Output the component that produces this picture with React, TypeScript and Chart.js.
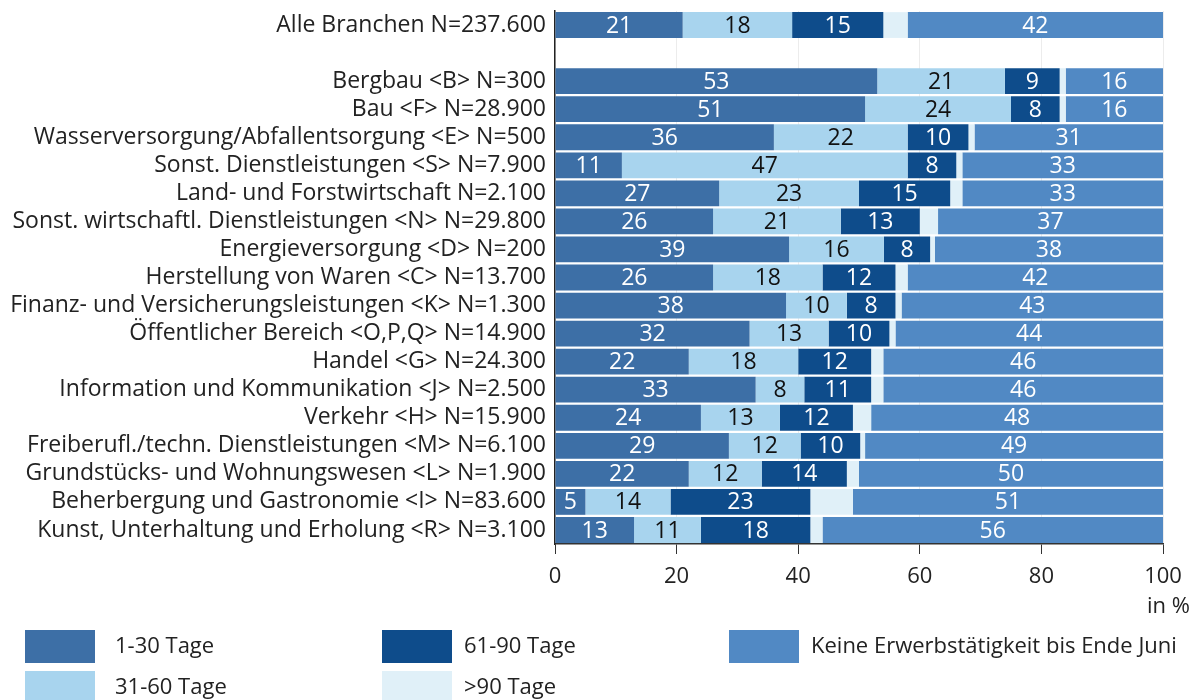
import React, { useEffect, useRef } from "react";
import { Chart, registerables } from "chart.js";

Chart.register(...registerables);

const categories = [
  "Alle Branchen N=237.600",
  "",
  "Bergbau <B> N=300",
  "Bau <F> N=28.900",
  "Wasserversorgung/Abfallentsorgung <E> N=500",
  "Sonst. Dienstleistungen <S> N=7.900",
  "Land- und Forstwirtschaft N=2.100",
  "Sonst. wirtschaftl. Dienstleistungen <N> N=29.800",
  "Energieversorgung <D> N=200",
  "Herstellung von Waren <C> N=13.700",
  "Finanz- und Versicherungsleistungen <K> N=1.300",
  "Öffentlicher Bereich <O,P,Q> N=14.900",
  "Handel <G> N=24.300",
  "Information und Kommunikation <J> N=2.500",
  "Verkehr <H> N=15.900",
  "Freiberufl./techn. Dienstleistungen <M> N=6.100",
  "Grundstücks- und Wohnungswesen <L> N=1.900",
  "Beherbergung und Gastronomie <I> N=83.600",
  "Kunst, Unterhaltung und Erholung <R> N=3.100",
];

const tage1to30 = [21, null, 53, 51, 36, 11, 27, 26, 38.5, 26, 38, 32, 22, 33, 24, 28.6, 22, 5, 13];
const tage31to60 = [18, null, 21, 24, 22, 47, 23, 21, 15.6, 18, 10, 13, 18, 8, 13, 11.8, 12, 14, 11];
const tage61to90 = [15, null, 9, 8, 10, 8, 15, 13, 7.6, 12, 8, 10, 12, 11, 12, 9.8, 14, 23, 18];
const tageOver90 = [4, null, 1, 1, 1, 1, 2, 3, 0.8, 2, 1, 1, 2, 2, 3, 0.8, 2, 7, 2];
const keineErwerb = [42, null, 16, 16, 31, 33, 33, 37, 37.5, 42, 43, 44, 46, 46, 48, 49, 50, 51, 56];

const seriesNames = ["1-30 Tage", "31-60 Tage", "61-90 Tage", ">90 Tage", "Keine Erwerbstätigkeit bis Ende Juni"];
const xTicks = [0, 20, 40, 60, 80, 100];

const colors = ["#3d6fa6", "#a8d4ee", "#0e4c8b", "#e0f0f8", "#5189c4"];
const labelColors = ["#ffffff", "#111111", "#ffffff", null, "#ffffff"];
const FONT = "'Open Sans', 'Liberation Sans', sans-serif";

export default function App() {
  const ref = useRef<HTMLCanvasElement | null>(null);

  useEffect(() => {
    if (!ref.current) return;
    const values = [tage1to30, tage31to60, tage61to90, tageOver90, keineErwerb];

    const labelPlugin = {
      id: "barLabels",
      afterDatasetsDraw(chart: any) {
        const ctx = chart.ctx;
        ctx.save();
        ctx.font = `23px ${FONT}`;
        ctx.textAlign = "center";
        ctx.textBaseline = "middle";
        chart.data.datasets.forEach((ds: any, di: number) => {
          const col = labelColors[di];
          if (!col) return;
          const meta = chart.getDatasetMeta(di);
          meta.data.forEach((el: any, i: number) => {
            const v = ds.data[i];
            if (v == null) return;
            const p = el.getProps(["x", "y", "base"], true);
            ctx.fillStyle = col;
            ctx.fillText(String(Math.round(v)), (p.x + p.base) / 2, p.y + 1);
          });
        });
        ctx.restore();
      },
    };

    const extrasPlugin = {
      id: "extras",
      afterDraw(chart: any) {
        const ctx = chart.ctx;
        ctx.save();
        ctx.font = `22px ${FONT}`;
        ctx.fillStyle = "#222";
        ctx.textAlign = "right";
        ctx.textBaseline = "middle";
        ctx.fillText("in %", 1190, 607);
        // legend
        const sq = [25, 382, 729];
        const tx = [115, 464, 811];
        const rows = [630, 671];
        const order = [
          [0, 0, 0],
          [1, 0, 1],
          [2, 1, 0],
          [3, 1, 1],
          [4, 2, 0],
        ];
        ctx.textAlign = "left";
        order.forEach(([di, c, r]) => {
          const y = rows[r];
          ctx.fillStyle = colors[di];
          ctx.fillRect(sq[c], y, 70, 33);
          ctx.fillStyle = "#222";
          ctx.fillText(seriesNames[di], tx[c], y + 17);
        });
        ctx.restore();
      },
    };

    const chart = new Chart(ref.current, {
      type: "bar",
      data: {
        labels: categories,
        datasets: values.map((d, i) => ({
          label: seriesNames[i],
          data: d as any,
          backgroundColor: colors[i],
          borderWidth: 0,
          barPercentage: 0.92,
          categoryPercentage: 1,
        })),
      },
      options: {
        indexAxis: "y",
        animation: false,
        responsive: false,
        layout: { padding: { top: 11, right: 35, bottom: 86, left: 0 } },
        plugins: { legend: { display: false }, tooltip: { enabled: false } },
        scales: {
          x: {
            stacked: true,
            min: 0,
            max: 100,
            afterBuildTicks(scale: any) {
              scale.ticks = xTicks.map((v) => ({ value: v }));
            },
            afterFit(scale: any) {
              scale.height = 70;
            },
            grid: {
              color: "#ececec",
              tickColor: "#333",
              tickLength: 10,
              lineWidth: 1,
            },
            border: { display: true, color: "#333", width: 1.5 },
            ticks: {
              color: "#222",
              font: { family: FONT, size: 22 },
              padding: 10,
            },
          },
          y: {
            stacked: true,
            afterFit(scale: any) {
              scale.width = 555;
              scale.paddingTop = 0;
            },
            grid: { display: false },
            border: { display: true, color: "#222", width: 1.5 },
            ticks: {
              color: "#222",
              font: { family: FONT, size: 23 },
              padding: 1,
              autoSkip: false,
            },
          },
        },
      },
      plugins: [labelPlugin, extrasPlugin],
    });
    return () => chart.destroy();
  }, []);

  return (
    <div style={{ position: "fixed", left: 0, top: 0, width: 1198, height: 700, background: "#fff" }}>
      <canvas ref={ref} width={1198} height={700} />
    </div>
  );
}
